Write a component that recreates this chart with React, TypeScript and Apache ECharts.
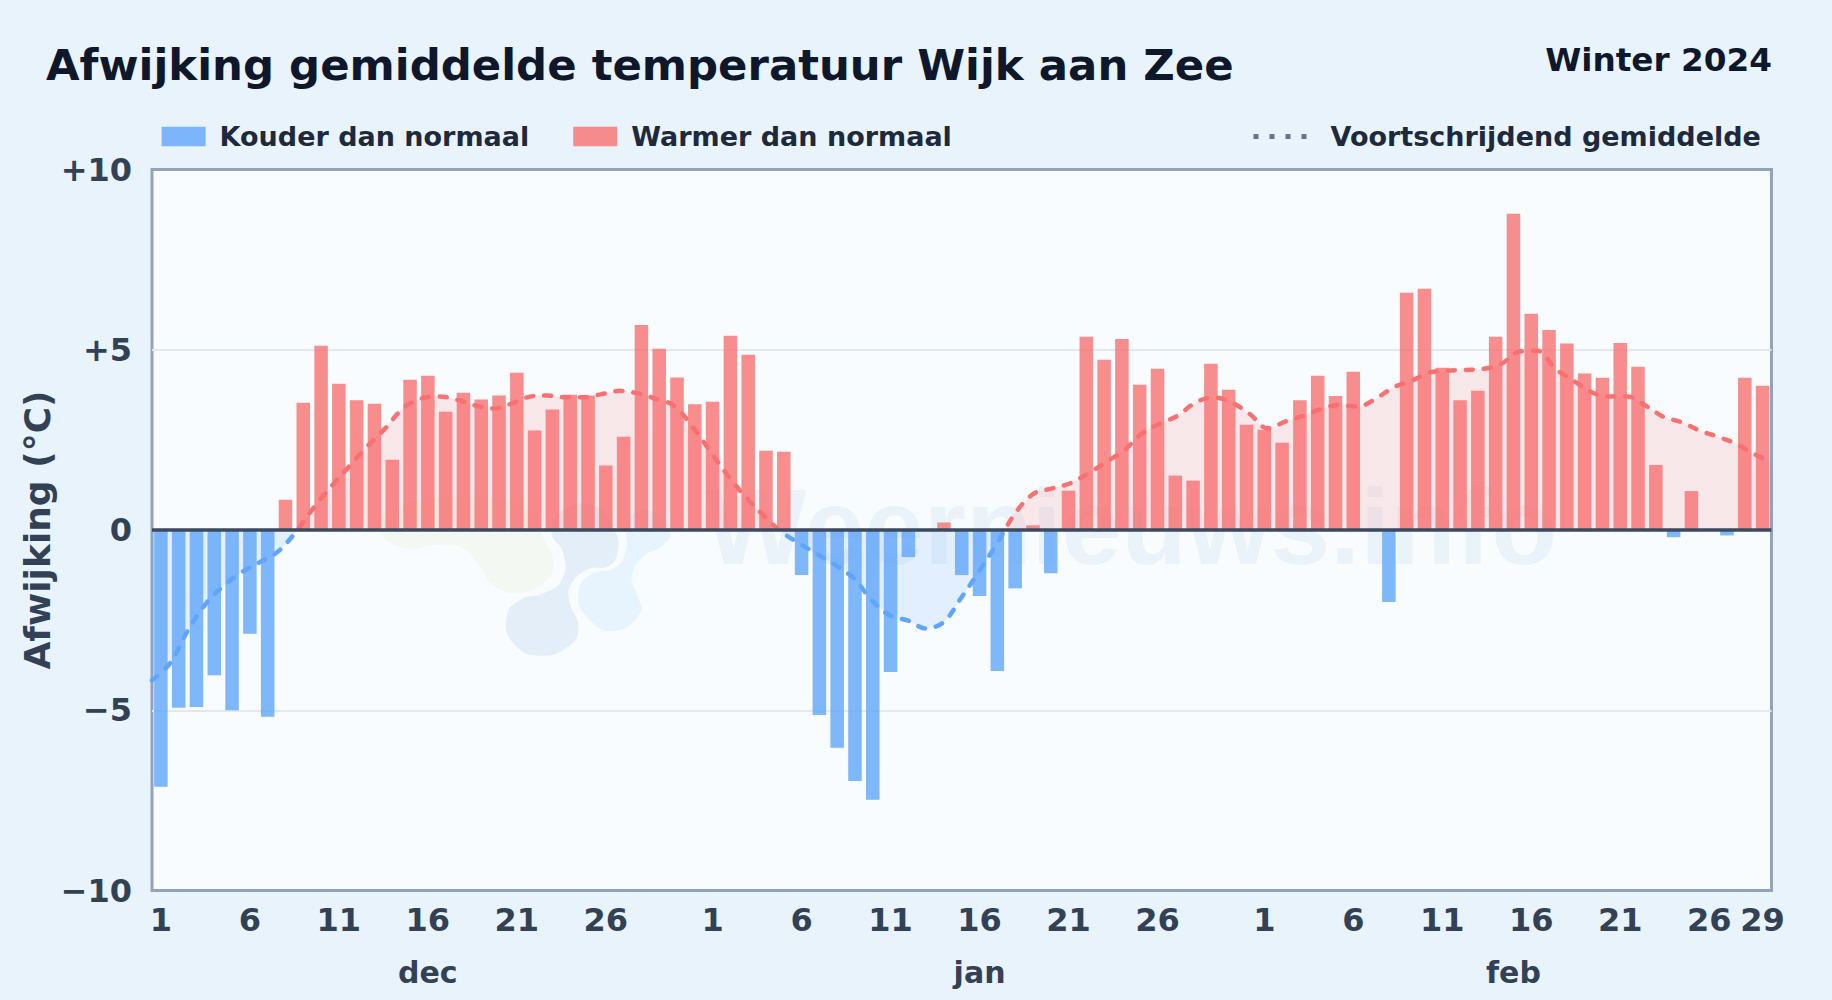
import React, { useEffect, useRef } from "react";
import * as echarts from "echarts";

const FONT = '"DejaVu Sans", sans-serif';

const titleText = "Afwijking gemiddelde temperatuur Wijk aan Zee";
const subtitleText = "Winter 2024";
const coldName = "Kouder dan normaal";
const warmName = "Warmer dan normaal";
const avgName = "Voortschrijdend gemiddelde";
const yName = "Afwijking (°C)";

const decDays = 31;
const janDays = 31;
const febDays = 29;
const dayTicks = [1, 6, 11, 16, 21, 26];
const febExtraTick = 29;
const monthLabels = ["dec", "jan", "feb"];

const deviations = [
  -7.12, -4.93, -4.91, -4.03, -5.0, -2.88, -5.18, 0.84, 3.53, 5.11, 4.06, 3.6, 3.5, 1.95, 4.17, 4.28,
  3.28, 3.81, 3.62, 3.73, 4.36, 2.76, 3.34, 3.75, 3.73, 1.79, 2.59, 5.69, 5.03, 4.23, 3.49,
  3.56, 5.39, 4.86, 2.2, 2.17, -1.25, -5.13, -6.04, -6.96, -7.48, -3.94, -0.75, 0, 0.21, -1.25, -1.83,
  -3.91, -1.62, 0.13, -1.2, 1.09, 5.36, 4.72, 5.3, 4.03, 4.47, 1.51, 1.37, 4.61, 3.89, 2.92,
  2.78, 2.42, 3.6, 4.28, 3.72, 4.39, 0, -2.0, 6.58, 6.69, 4.5, 3.6, 3.86, 5.36, 8.77, 6.0, 5.55, 5.17,
  4.34, 4.22, 5.19, 4.53, 1.8, -0.2, 1.08, 0, -0.15, 4.22, 4.0,
];

const movingAverage = [
  -4.17, -3.7, -2.78, -2.04, -1.54, -1.17, -0.89, -0.6, -0.05, 0.63, 1.23, 1.79, 2.34, 2.84, 3.4, 3.65,
  3.7, 3.61, 3.45, 3.37, 3.51, 3.7, 3.73, 3.68, 3.68, 3.77, 3.86, 3.79, 3.64, 3.45, 2.89,
  2.2, 1.51, 0.91, 0.4, -0.06, -0.38, -0.68, -0.98, -1.34, -1.95, -2.37, -2.51, -2.73, -2.55, -1.86, -1.12,
  -0.34, 0.49, 1.01, 1.15, 1.29, 1.56, 1.88, 2.2, 2.67, 2.95, 3.17, 3.54, 3.68, 3.54, 3.22,
  2.82, 3.01, 3.17, 3.36, 3.47, 3.42, 3.64, 3.96, 4.14, 4.37, 4.42, 4.44, 4.47, 4.61, 4.95, 4.97, 4.47, 4.14,
  3.82, 3.7, 3.7, 3.45, 3.14, 2.99, 2.76, 2.59, 2.4, 2.12, 1.88,
];

const yTicks: Record<string, string> = { "10": "+10", "5": "+5", "0": "0", "-5": "−5", "-10": "−10" };

const coldValues = deviations.map((v) => (v < 0 ? v : null));
const warmValues = deviations.map((v) => (v > 0 ? v : null));
const categories = deviations.map((_, i) => String(i));

function dayOfMonth(i: number): { day: number; month: number; len: number } {
  if (i < decDays) return { day: i + 1, month: 0, len: decDays };
  if (i < decDays + janDays) return { day: i - decDays + 1, month: 1, len: janDays };
  return { day: i - decDays - janDays + 1, month: 2, len: febDays };
}

const showDay = (i: number) => {
  const d = dayOfMonth(i);
  return dayTicks.includes(d.day) || (d.month === 2 && d.day === febExtraTick);
};
const showMonth = (i: number) => {
  const d = dayOfMonth(i);
  return d.day === Math.ceil(d.len / 2);
};

export default function App() {
  const ref = useRef<HTMLDivElement>(null);
  useEffect(() => {
    document.body.style.margin = "0";
    const chart = echarts.init(ref.current!, null, { renderer: "svg" });
    const gridLeft = 152;
    const gridTop = 169.5;
    const gridW = 1619.5;
    const gridH = 721;
    const blob = (points: number[][], fill: string) => ({
      type: "polygon",
      silent: true,
      z: 0,
      shape: { points: points.map(([x, y]) => [370 + x / 3, 470 + y / 3]), smooth: 0.5 },
      style: { fill },
    });
    chart.setOption({
      animation: false,
      textStyle: { fontFamily: FONT },
      title: [
        {
          text: titleText,
          left: 46,
          top: 43,
          padding: 0,
          textStyle: { fontFamily: FONT, fontSize: 43.4, fontWeight: "bold", color: "#0f172a" },
        },
        {
          text: subtitleText,
          right: 60,
          top: 43,
          padding: 0,
          textStyle: { fontFamily: FONT, fontSize: 32.7, fontWeight: "bold", color: "#0f172a" },
        },
      ],
      legend: [
        {
          left: 161.6,
          top: 123,
          padding: 0,
          itemWidth: 44,
          itemHeight: 19.3,
          itemGap: 44,
          icon: "rect",
          selectedMode: false,
          data: [coldName, warmName],
          textStyle: { fontFamily: FONT, fontSize: 27, fontWeight: "bold", color: "#1e293b", padding: [0, 0, 0, 9] },
        },
        {
          left: 1251,
          top: 123,
          padding: 0,
          itemWidth: 56,
          itemHeight: 19.3,
          selectedMode: false,
          data: [
            {
              name: avgName,
              lineStyle: { color: "#64748b", width: 5, type: [5, 11], cap: "butt" },
              itemStyle: { opacity: 0, color: "transparent", borderWidth: 0 },
            },
          ],
          textStyle: { fontFamily: FONT, fontSize: 27, fontWeight: "bold", color: "#1e293b", padding: [0, 0, 0, 16] },
        },
      ],
      grid: {
        left: gridLeft,
        top: gridTop,
        width: gridW,
        height: gridH,
        show: true,
        backgroundColor: "#f8fcff",
        borderColor: "#94a3b8",
        borderWidth: 3,
        containLabel: false,
      },
      graphic: {
        elements: [
          blob(
            [[30, 185], [110, 235], [200, 225], [280, 235], [330, 290], [370, 345], [440, 370], [530, 330], [550, 270], [520, 205], [490, 130], [300, 80], [60, 120]],
            "#f3f9f2"
          ),
          blob(
            [[545, 185], [580, 250], [575, 330], [520, 370], [450, 390], [410, 440], [430, 520], [510, 557], [600, 525], [625, 470], [600, 400], [600, 350], [650, 300], [720, 285], [745, 230], [735, 185], [680, 110], [580, 120]],
            "#e4eef8"
          ),
          blob(
            [[770, 185], [770, 230], [740, 290], [660, 315], [625, 370], [650, 440], [730, 483], [810, 430], [800, 370], [785, 320], [820, 260], [880, 225], [900, 185], [860, 130], [790, 130]],
            "#e8f4fd"
          ),
          {
            type: "text",
            silent: true,
            z: 0,
            x: 705,
            y: 581,
            style: {
              text: "Weernieuws.info",
              fontFamily: '"Liberation Sans", sans-serif',
              fontSize: 107.5,
              fontWeight: "bold",
              fill: "rgba(37,99,165,0.06)",
              verticalAlign: "bottom",
            },
          },
        ],
      },
      xAxis: [
        {
          type: "category",
          data: categories,
          boundaryGap: true,
          position: "bottom",
          axisLine: { show: false },
          axisTick: { show: false },
          axisLabel: {
            interval: (i: number) => showDay(i),
            formatter: (_: string, i: number) => String(dayOfMonth(i).day),
            hideOverlap: false,
            margin: 13,
            fontFamily: FONT,
            fontSize: 32,
            fontWeight: "bold",
            color: "#334155",
          },
        },
        {
          type: "value",
          min: 0,
          max: deviations.length - 1,
          position: "bottom",
          splitLine: { show: false },
          axisTick: { show: false },
          axisLabel: { show: false },
          axisLine: { show: false },
        },
        {
          type: "category",
          data: categories,
          boundaryGap: true,
          position: "bottom",
          offset: 53,
          axisLine: { show: false },
          axisTick: { show: false },
          axisLabel: {
            interval: (i: number) => showMonth(i),
            formatter: (_: string, i: number) => monthLabels[dayOfMonth(i).month],
            hideOverlap: false,
            margin: 14,
            fontFamily: FONT,
            fontSize: 30,
            fontWeight: "bold",
            color: "#334155",
          },
        },
      ],
      yAxis: {
        type: "value",
        min: -10,
        max: 10,
        interval: 5,
        name: yName,
        nameLocation: "middle",
        nameRotate: 90,
        nameGap: 97,
        nameMoveOverlap: false,
        nameTextStyle: { fontFamily: FONT, fontSize: 36, fontWeight: "bold", color: "#334155" },
        axisLine: { show: false },
        axisTick: { show: false },
        axisLabel: {
          margin: 20,
          fontFamily: FONT,
          fontSize: 32,
          fontWeight: "bold",
          color: "#334155",
          formatter: (v: number) => yTicks[String(v)] ?? String(v),
        },
        splitLine: {
          show: true,
          showMinLine: false,
          showMaxLine: false,
          lineStyle: { color: "#e2e8f0", width: 2 },
        },
      },
      visualMap: {
        show: false,
        type: "piecewise",
        seriesIndex: 2,
        dimension: 1,
        pieces: [
          { gte: -20, lt: 0, color: "#60a5fa" },
          { gte: 0, lte: 20, color: "#f87171" },
        ],
      },
      series: [
        {
          name: coldName,
          type: "bar",
          data: coldValues,
          xAxisIndex: 0,
          barWidth: "76%",
          barGap: "-100%",
          itemStyle: { color: "#60a5fa", opacity: 0.8 },
        },
        {
          name: warmName,
          type: "bar",
          data: warmValues,
          xAxisIndex: 0,
          barWidth: "76%",
          barGap: "-100%",
          itemStyle: { color: "#f87171", opacity: 0.8 },
          markLine: {
            silent: true,
            symbol: "none",
            label: { show: false },
            animation: false,
            lineStyle: { color: "#3b4a5e", width: 3.6, type: "solid" },
            data: [{ yAxis: 0 }],
          },
        },
        {
          name: avgName,
          type: "line",
          xAxisIndex: 1,
          data: movingAverage.map((v, i) => [i, v]),
          smooth: 0.35,
          symbol: "none",
          clip: true,
          z: 1,
          lineStyle: { width: 4.5, type: [7, 11], cap: "round" },
          areaStyle: { opacity: 0.15 },
        },
      ],
    });
    return () => chart.dispose();
  }, []);
  return (
    <div
      ref={ref}
      style={{
        width: 1832,
        height: 1000,
        background: "#e8f3fc",
      }}
    />
  );
}
